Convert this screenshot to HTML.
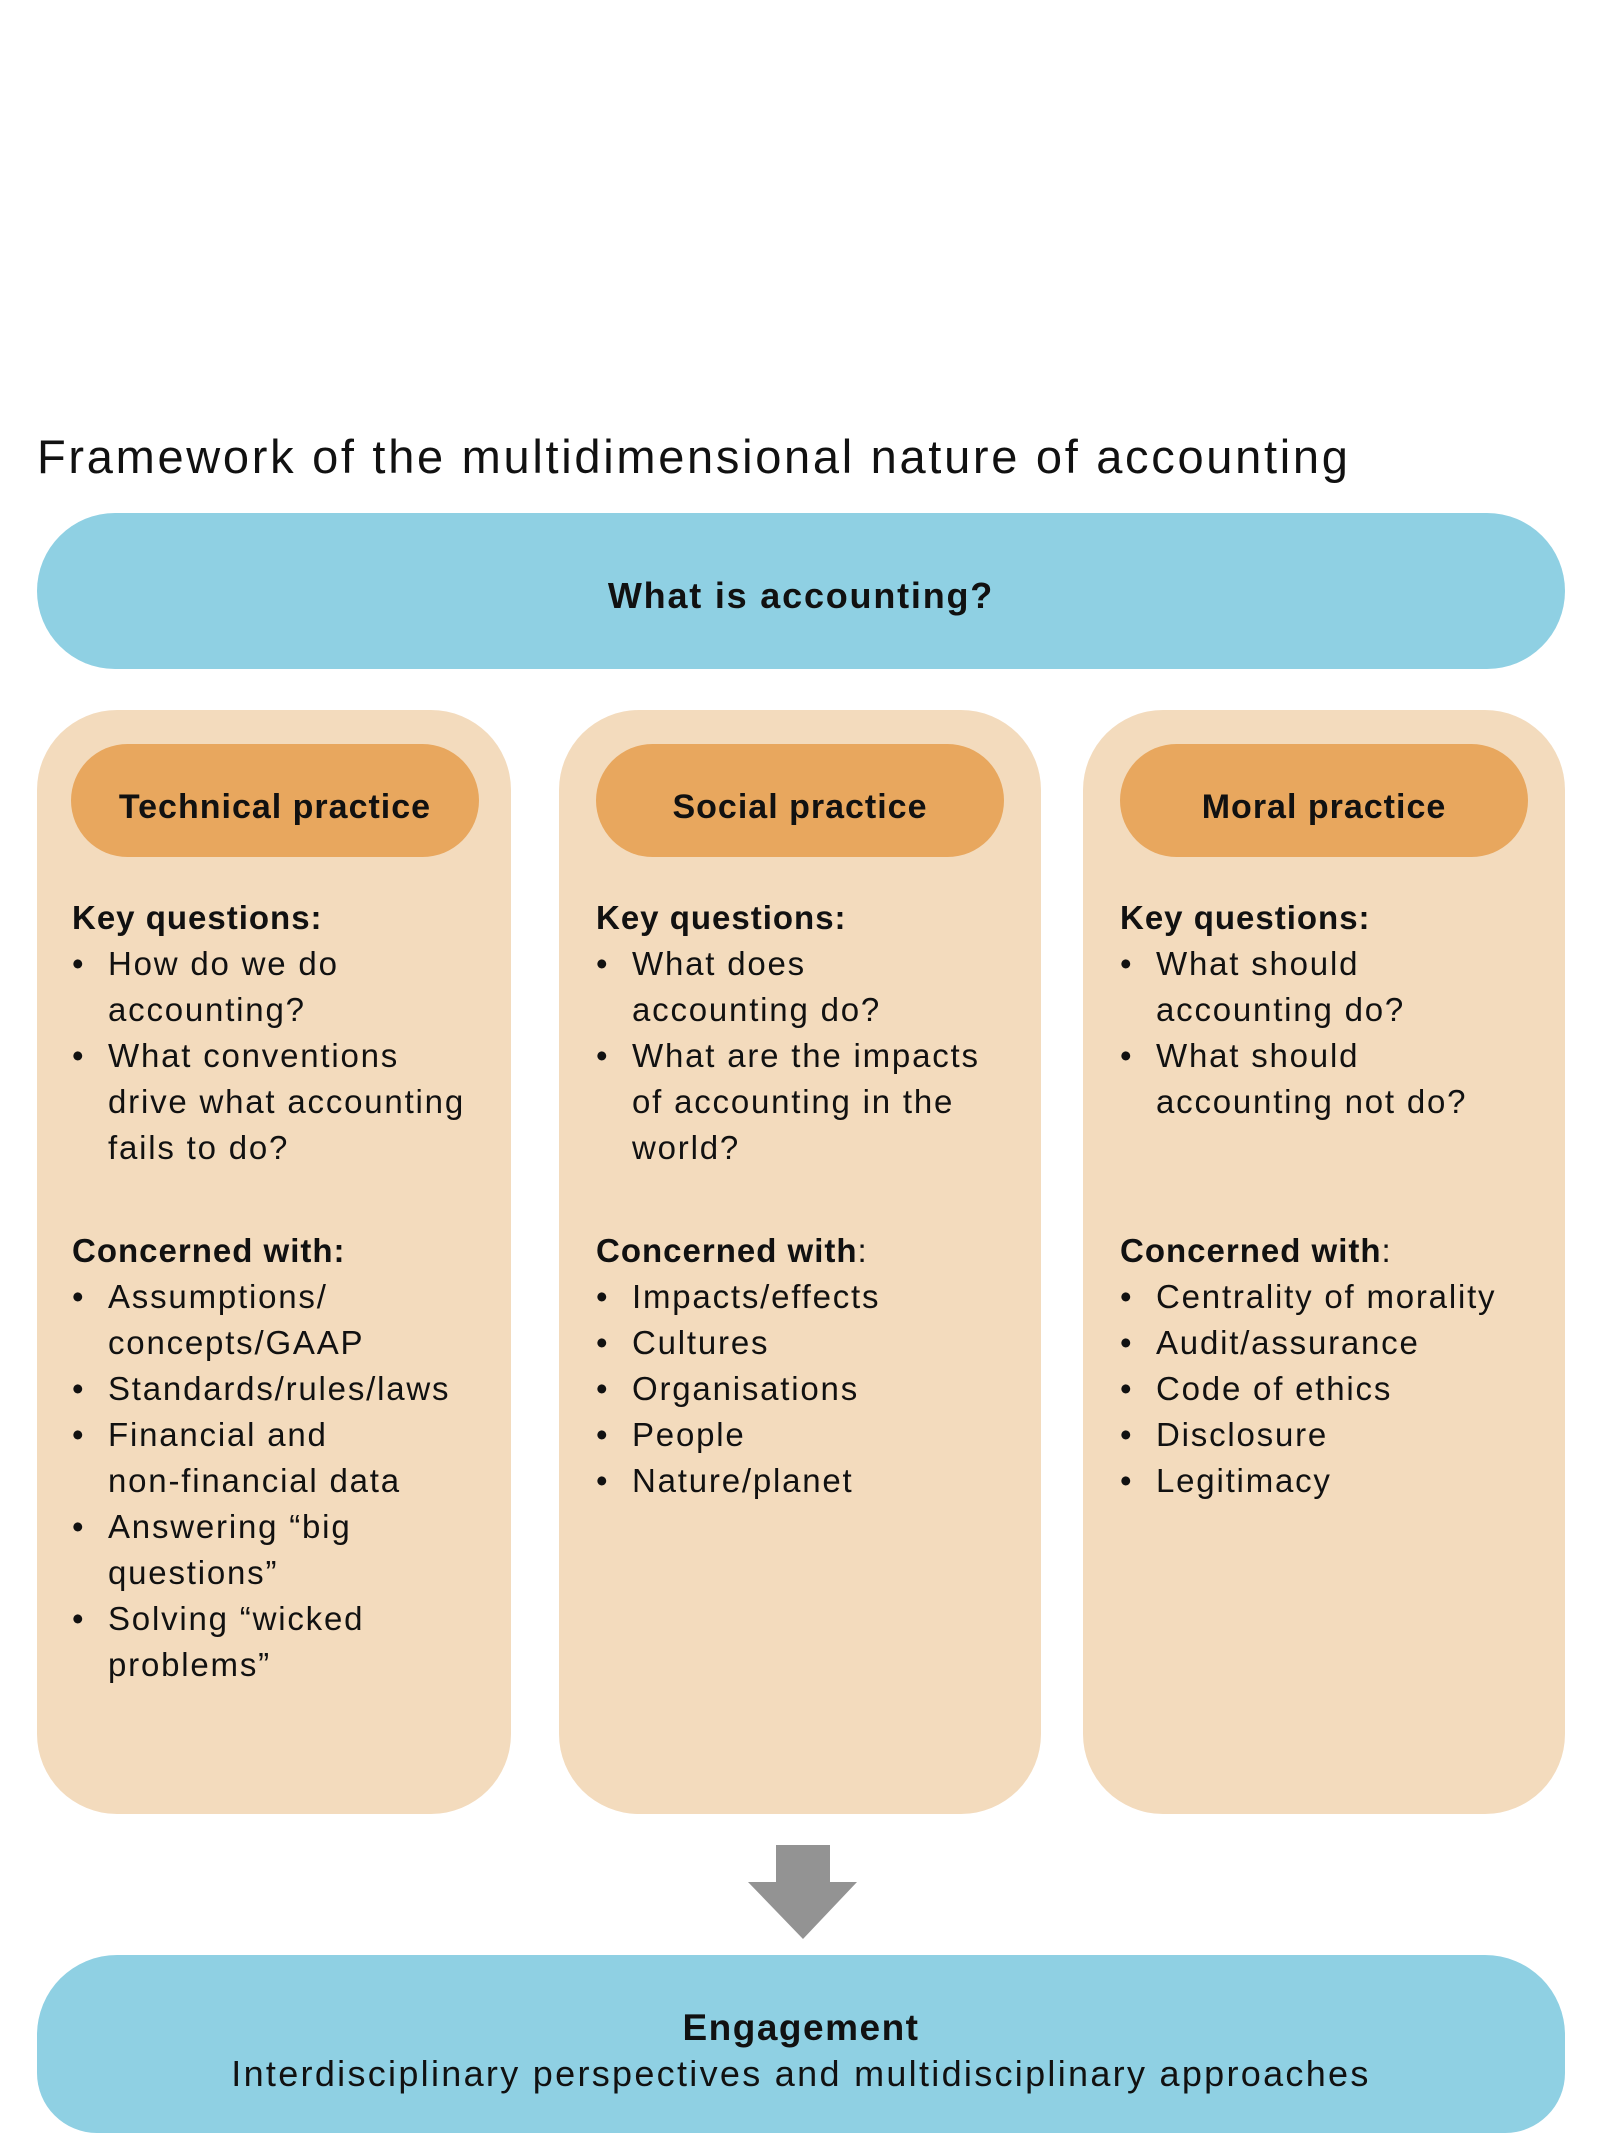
<!DOCTYPE html>
<html><head><meta charset="utf-8"><style>
body{margin:0;width:1600px;height:2133px;background:#fff;position:relative;overflow:hidden;font-family:"Liberation Sans",sans-serif;color:#111}
.a{position:absolute}
.pill{position:absolute;background:#8fd0e3;border-radius:80px}
.col{position:absolute;top:710px;width:474px;height:1104px;background:#f3dbbd;border-radius:80px}
.hd{position:absolute;top:744px;width:408px;height:113px;background:#e8a75e;border-radius:57px;font-weight:bold;font-size:34px;text-align:center;line-height:126px;letter-spacing:1px}
.tx{position:absolute;font-size:33px;line-height:46px;white-space:nowrap;letter-spacing:1.8px}
.tx div{position:relative;padding-left:36px}
.tx div.b::before{content:"•";position:absolute;left:0}
.tx div.h{padding-left:0;font-weight:bold;letter-spacing:1px}
</style></head><body>
<div class="a" style="left:37px;top:429px;font-size:47px;white-space:nowrap;letter-spacing:2.7px">Framework of the multidimensional nature of accounting</div>
<div class="pill" style="left:37px;top:513px;width:1528px;height:156px;text-align:center;line-height:166px;font-weight:bold;font-size:36px;letter-spacing:1.8px">What is accounting?</div>

<div class="col" style="left:37px"></div>
<div class="col" style="left:559px;width:482px"></div>
<div class="col" style="left:1083px;width:482px"></div>
<div class="hd" style="left:71px">Technical practice</div>
<div class="hd" style="left:596px">Social practice</div>
<div class="hd" style="left:1120px">Moral practice</div>

<div class="tx" style="left:72px;top:895px">
<div class="h">Key questions:</div>
<div class="b">How do we do</div><div>accounting?</div>
<div class="b">What conventions</div><div>drive what accounting</div><div>fails to do?</div>
</div>
<div class="tx" style="left:72px;top:1228px">
<div class="h">Concerned with:</div>
<div class="b">Assumptions/</div><div>concepts/GAAP</div>
<div class="b">Standards/rules/laws</div>
<div class="b">Financial and</div><div>non-financial data</div>
<div class="b">Answering “big</div><div>questions”</div>
<div class="b">Solving “wicked</div><div>problems”</div>
</div>

<div class="tx" style="left:596px;top:895px">
<div class="h">Key questions:</div>
<div class="b">What does</div><div>accounting do?</div>
<div class="b">What are the impacts</div><div>of accounting in the</div><div>world?</div>
</div>
<div class="tx" style="left:596px;top:1228px">
<div class="h">Concerned with<span style="font-weight:normal">:</span></div>
<div class="b">Impacts/effects</div>
<div class="b">Cultures</div>
<div class="b">Organisations</div>
<div class="b">People</div>
<div class="b">Nature/planet</div>
</div>

<div class="tx" style="left:1120px;top:895px">
<div class="h">Key questions:</div>
<div class="b">What should</div><div>accounting do?</div>
<div class="b">What should</div><div>accounting not do?</div>
</div>
<div class="tx" style="left:1120px;top:1228px">
<div class="h">Concerned with<span style="font-weight:normal">:</span></div>
<div class="b">Centrality of morality</div>
<div class="b">Audit/assurance</div>
<div class="b">Code of ethics</div>
<div class="b">Disclosure</div>
<div class="b">Legitimacy</div>
</div>

<svg class="a" style="left:0;top:0" width="1600" height="2133"><polygon points="776,1845 830,1845 830,1882 857,1882 803,1939 748,1882 776,1882" fill="#939393"/></svg>

<div class="pill" style="left:37px;top:1955px;width:1528px;height:178px;border-radius:80px 80px 60px 60px;text-align:center">
<div style="position:absolute;top:52px;width:100%;font-weight:bold;font-size:37px;letter-spacing:1.5px">Engagement</div>
<div style="position:absolute;top:98px;width:100%;font-size:36px;letter-spacing:2.3px">Interdisciplinary perspectives and multidisciplinary approaches</div>
</div>
</body></html>
